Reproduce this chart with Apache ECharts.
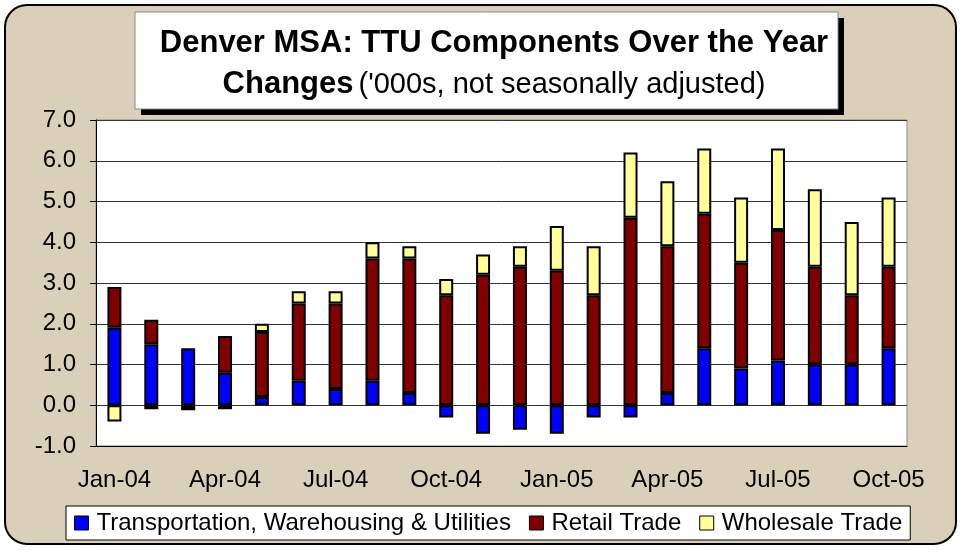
<!DOCTYPE html>
<html>
<head>
<meta charset="utf-8">
<script src="https://cdn.jsdelivr.net/npm/echarts@6/dist/echarts.min.js"></script>
<style>
  html, body { margin: 0; padding: 0; background: #fff; }
  #main { width: 963px; height: 550px; }
</style>
</head>
<body>
<div id="main"></div>
<script>
var months = ['Jan-04', 'Feb-04', 'Mar-04', 'Apr-04', 'May-04', 'Jun-04', 'Jul-04', 'Aug-04', 'Sep-04', 'Oct-04', 'Nov-04', 'Dec-04',
  'Jan-05', 'Feb-05', 'Mar-05', 'Apr-05', 'May-05', 'Jun-05', 'Jul-05', 'Aug-05', 'Sep-05', 'Oct-05'];
// year-over-year changes, thousands
var ttu = [1.9, 1.5, 1.4, 0.8, 0.2, 0.6, 0.4, 0.6, 0.3, -0.3, -0.7, -0.6, -0.7, -0.3, -0.3, 0.3, 1.4, 0.9, 1.1, 1.0, 1.0, 1.4];
var retail = [1.0, 0.6, -0.1, 0.9, 1.6, 1.9, 2.1, 3.0, 3.3, 2.7, 3.2, 3.4, 3.3, 2.7, 4.6, 3.6, 3.3, 2.6, 3.2, 2.4, 1.7, 2.0];
var wholesale = [-0.4, -0.1, 0, -0.1, 0.2, 0.3, 0.3, 0.4, 0.3, 0.4, 0.5, 0.5, 1.1, 1.2, 1.6, 1.6, 1.6, 1.6, 2.0, 1.9, 1.8, 1.7];

var font = '"Liberation Sans", Arial, sans-serif';
var myChart = echarts.init(document.getElementById('main'));

function barSeries(name, data, color) {
  return {
    name: name,
    type: 'bar',
    stack: 'ttu',
    barWidth: 14,
    data: data,
    itemStyle: { color: color, borderColor: '#000', borderWidth: 2 }
  };
}

var option = {
  backgroundColor: '#fff',
  animation: false,
  textStyle: { fontFamily: font },
  graphic: [
    { type: 'rect', z: -10, shape: { x: 5, y: 5, width: 951, height: 539, r: 22 },
      style: { fill: '#dad0b9', stroke: '#000', lineWidth: 2 } },
    { type: 'rect', z: -9, shape: { x: 141, y: 18, width: 703, height: 97 }, style: { fill: '#000' } },
    { type: 'rect', z: -8, shape: { x: 135, y: 12, width: 703, height: 97 },
      style: { fill: '#fff', stroke: '#888', lineWidth: 1 } }
  ],
  title: {
    text: '{b|Denver MSA: TTU Components Over the Year}\n{b|Changes} {n|(\'000s, not seasonally adjusted)}',
    left: 489,
    top: 18,
    textAlign: 'center',
    textStyle: {
      rich: {
        b: { fontFamily: font, fontSize: 31, fontWeight: 'bold', color: '#000', lineHeight: 41 },
        n: { fontFamily: font, fontSize: 29, fontWeight: 'normal', color: '#000', lineHeight: 41 }
      }
    }
  },
  legend: {
    left: 66,
    top: 506,
    itemWidth: 14,
    itemHeight: 14,
    itemGap: 18,
    padding: [5, 8],
    backgroundColor: '#fff',
    borderColor: '#000',
    borderWidth: 1,
    textStyle: { fontFamily: font, fontSize: 24, color: '#000', padding: [0, 0, 0, 3] },
    data: [
      { name: 'Transportation, Warehousing & Utilities', icon: 'rect', itemStyle: { borderColor: '#000', borderWidth: 1 } },
      { name: 'Retail Trade', icon: 'rect', itemStyle: { borderColor: '#000', borderWidth: 1 } },
      { name: 'Wholesale Trade', icon: 'rect', itemStyle: { borderColor: '#000', borderWidth: 1 } }
    ]
  },
  grid: {
    left: 96,
    right: 56,
    top: 120,
    bottom: 104,
    show: true,
    backgroundColor: '#fff',
    borderColor: '#888',
    borderWidth: 1
  },
  xAxis: {
    type: 'category',
    data: months,
    axisLine: { onZero: false, lineStyle: { color: '#000', width: 1 } },
    axisTick: { interval: 2, length: 7, inside: false, lineStyle: { color: '#000' } },
    axisLabel: { interval: 2, fontSize: 24, color: '#000', margin: 22, fontFamily: font }
  },
  yAxis: {
    type: 'value',
    min: -1,
    max: 7,
    interval: 1,
    axisLine: { show: true, lineStyle: { color: '#000' } },
    axisTick: { show: true, length: 6, lineStyle: { color: '#000' } },
    axisLabel: {
      fontSize: 24, color: '#000', margin: 20, fontFamily: font,
      formatter: function (v) { return v.toFixed(1); }
    },
    splitLine: { lineStyle: { color: '#333', width: 1 } }
  },
  series: [
    barSeries('Transportation, Warehousing & Utilities', ttu, '#0000ff'),
    barSeries('Retail Trade', retail, '#800000'),
    barSeries('Wholesale Trade', wholesale, '#ffff99')
  ]
};

myChart.setOption(option);
</script>
</body>
</html>
